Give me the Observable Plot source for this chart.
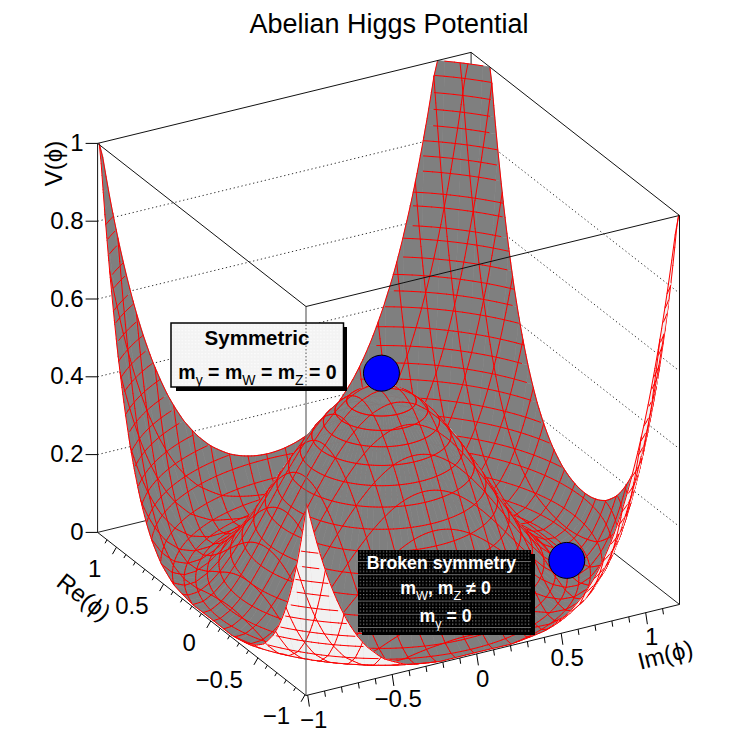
<!DOCTYPE html>
<html><head><meta charset="utf-8">
<style>html,body{margin:0;padding:0;background:#fff}svg{display:block}</style>
<script src="https://cdn.jsdelivr.net/npm/d3@7"></script>
<script src="https://cdn.jsdelivr.net/npm/@observablehq/plot@0.6"></script>
</head><body><div id="chart"></div>
<script>
// values
const ringR=[0,.06,.12,.18,.24,.30,.36,.42,.48,.54,.60,.66,.72,.78,.84,.90,.96,1.02,1.08,1.14,1.19,1.22,1.25,1.275,1.30,1.32,1.34,1.36,1.38,1.395,1.41,1.425,1.44,1.45,1.465,1.475,1.49,1.5,1.51,1.52,1.53,1.54,1.55,1.563];
const ringV=[.49,.486,.476,.459,.435,.406,.371,.332,.29,.246,.201,.156,.114,.075,.042,.018,.003,.001,.014,.044,.085,.117,.155,.192,.233,.27,.31,.354,.401,.439,.478,.52,.565,.596,.644,.677,.729,.766,.803,.841,.881,.922,.964,1];
const gridLines=[-1,-.89,-.78,-.67,-.56,-.45,-.34,-.23,-.12,-.01,.1,.21,.32,.43,.54,.65,.76,.87,.98,1.09,1.2];
const zTicks=[0,.2,.4,.6,.8,1];
const zLabels=["0","0.2","0.4","0.6","0.8","1"];
const reTicks=[-1,-.5,0,.5,1];
const minorTicks=[-1,-.9,-.8,-.7,-.6,-.5,-.4,-.3,-.2,-.1,0,.1,.2,.3,.4,.5,.6,.7,.8,.9,1,1.1];
const tickLabels=["\u22121","\u22120.5","0","0.5","1"];
const balls=[{re:0,im:0,v:.53},{re:-.46,im:.84,v:.047}];
const lo=-1.01,hi=1.2,dLo=-1,dHi=1.2;

// parallel view of the box
const px=(re,im,v)=>305.5+(re-lo)*-94.3+(im-lo)*169;
const py=(re,im,v)=>695+(re-lo)*-73.8+(im-lo)*-41.2-v*389;
const depth=(re,im,v)=>re+.558*im-.25*v;
const vAt=d3.scaleLinear().domain(ringR).range(ringV);

function clip(poly,axis,val,keepAbove){
  const out=[];
  const inside=p=>keepAbove?p[axis]>=val:p[axis]<=val;
  for(let i=0;i<poly.length;i++){
    const a=poly[i],b=poly[(i+1)%poly.length];
    if(inside(a))out.push(a);
    if(inside(a)!==inside(b)){
      const t=(val-a[axis])/(b[axis]-a[axis]);
      out.push([a[0]+t*(b[0]-a[0]),a[1]+t*(b[1]-a[1]),a[2]+t*(b[2]-a[2])]);
    }
  }
  return out;
}
const items=[];
const nT=96;
const rMax=ringR[ringR.length-1];
const polar=(i,j)=>{const th=j*2*Math.PI/nT;return[ringR[i]*Math.cos(th),ringR[i]*Math.sin(th),ringV[i]];};
for(let i=0;i<ringR.length-1;i++)for(let j=0;j<nT;j++){
  let p=[polar(i,j),polar(i+1,j),polar(i+1,j+1),polar(i,j+1)];
  p=clip(p,0,dLo,true);if(p.length)p=clip(p,0,dHi,false);if(p.length)p=clip(p,1,dLo,true);if(p.length)p=clip(p,1,dHi,false);
  if(p.length<3)continue;
  const pts=p.map(q=>[px(...q),py(...q)]);
  let area=0;pts.forEach((a,k)=>{const b=pts[(k+1)%pts.length];area+=a[0]*b[1]-b[0]*a[1];});
  if(Math.abs(area)<.01)continue;
  const col=area>0?"#7f7f7f":"#f1f1f1";
  items.push({key:d3.mean(p,q=>depth(...q)),pts,fill:col,stroke:col,sw:.7});
}
function seg(a,b){
  const m=[(a[0]+b[0])/2,(a[1]+b[1])/2,(a[2]+b[2])/2];
  items.push({key:depth(...m)-.07,pts:[[px(...a),py(...a)],[px(...b),py(...b)]],fill:"none",stroke:"#ff0000",sw:1});
}
// rings
ringR.forEach((r,i)=>{
  if(r<.17)return;
  for(let j=0;j<nT*2;j++){
    const t0=j*Math.PI/nT,t1=(j+1)*Math.PI/nT;
    const a=[r*Math.cos(t0),r*Math.sin(t0),ringV[i]],b=[r*Math.cos(t1),r*Math.sin(t1),ringV[i]];
    if(Math.min(a[0],a[1],b[0],b[1])<dLo||Math.max(a[0],a[1],b[0],b[1])>dHi)continue;
    seg(a,b);
  }
});
// grid lines in both directions
const st=.02,nS=110;
for(const c of gridLines){
  for(let k=0;k<nS;k++){
    const s0=dLo+k*st,s1=s0+st;
    const r0=Math.hypot(c,s0),r1=Math.hypot(c,s1);
    if(r0>rMax||r1>rMax)continue;
    const v0=vAt(r0),v1=vAt(r1);
    seg([c,s0,v0],[c,s1,v1]);
    seg([s0,c,v0],[s1,c,v1]);
  }
}
items.sort((a,b)=>b.key-a.key);
const surfaceRows=[];
items.forEach((it,id)=>it.pts.forEach(p=>surfaceRows.push({id,x:p[0],y:p[1],fill:it.fill,stroke:it.stroke,sw:it.sw})));

// box lines
const P=(re,im,v)=>({x:px(re,im,v),y:py(re,im,v)});
const edge=(a,b)=>({x1:px(...a),y1:py(...a),x2:px(...b),y2:py(...b)});
const backEdges=[edge([hi,lo,0],[hi,hi,0]),edge([hi,hi,0],[lo,hi,0]),edge([hi,hi,0],[hi,hi,1])];
const dotted=[];
for(const z of [.2,.4,.6,.8]){dotted.push(edge([hi,lo,z],[hi,hi,z]),edge([hi,hi,z],[lo,hi,z]));}
const frontEdges=[edge([hi,lo,0],[hi,lo,1]),edge([lo,hi,0],[lo,hi,1]),edge([hi,lo,1],[hi,hi,1]),edge([hi,hi,1],[lo,hi,1]),edge([hi,lo,1],[lo,lo,1]),edge([lo,lo,1],[lo,hi,1]),edge([hi,lo,0],[lo,lo,0]),edge([lo,lo,0],[lo,hi,0])];
const frontVert=[edge([lo,lo,0],[lo,lo,1])];
const zTickRows=zTicks.map(z=>P(hi,lo,z));
const isMajor=t=>reTicks.includes(t);
const reTickRows=minorTicks.map(t=>{const o=P(t,lo,0),m=isMajor(t)?1:.5;return{x1:o.x,y1:o.y,x2:o.x-4*m,y2:o.y+7*m};});
const imTickRows=minorTicks.map(t=>{const o=P(lo,t,0),m=isMajor(t)?1:.5;return{x1:o.x,y1:o.y,x2:o.x+1.7*m,y2:o.y+11.5*m};});
const F="Liberation Sans, Arial, sans-serif";
const pattern=()=>{
  const defs=d3.create("svg:defs");
  const a=defs.append("pattern").attr("id","lightDots").attr("width",3.3).attr("height",3.3).attr("patternUnits","userSpaceOnUse");
  a.append("rect").attr("width",3.3).attr("height",3.3).attr("fill","#f3f3f3");
  a.append("rect").attr("width",1.6).attr("height",1.2).attr("fill","#fbfbfb");
  const b=defs.append("pattern").attr("id","darkDots").attr("width",3.3).attr("height",13.2).attr("patternUnits","userSpaceOnUse");
  b.append("rect").attr("width",3.3).attr("height",13.2).attr("fill","#000");
  for(let y=0;y<13;y+=3.3)b.append("rect").attr("y",y).attr("width",1.2).attr("height",1.1).attr("fill","#8a8a8a");
  b.append("rect").attr("y",6.6).attr("width",3.3).attr("height",.9).attr("fill","#6e6e6e");
  return defs.node();
};
const one=[{}];
const plot=Plot.plot({
  width:745,height:745,margin:0,
  style:{background:"#fff",fontFamily:F},
  x:{domain:[0,745],range:[0,745],axis:null},
  y:{domain:[0,745],range:[0,745],axis:null},
  marks:[
    pattern,
    Plot.link(dotted,{x1:"x1",y1:"y1",x2:"x2",y2:"y2",stroke:"#333",strokeWidth:1,strokeDasharray:"1.3,2.7"}),
    Plot.link(backEdges,{x1:"x1",y1:"y1",x2:"x2",y2:"y2",stroke:"#222",strokeWidth:1}),
    Plot.line(surfaceRows,{x:"x",y:"y",z:"id",fill:{value:d=>d.fill,scale:null},stroke:{value:d=>d.stroke,scale:null},strokeWidth:{value:d=>d.sw,scale:null}}),
    Plot.link(frontVert,{x1:"x1",y1:"y1",x2:"x2",y2:"y2",stroke:"#666",strokeWidth:1.2}),
    Plot.link(frontEdges,{x1:"x1",y1:"y1",x2:"x2",y2:"y2",stroke:"#111",strokeWidth:1}),
    Plot.link(zTickRows,{x1:d=>d.x-12,x2:"x",y1:"y",y2:"y",stroke:"#000",strokeWidth:1}),
    Plot.link(reTickRows,{x1:"x1",y1:"y1",x2:"x2",y2:"y2",stroke:"#000",strokeWidth:1}),
    Plot.link(imTickRows,{x1:"x1",y1:"y1",x2:"x2",y2:"y2",stroke:"#000",strokeWidth:1}),
    Plot.text(zTicks,{x:z=>P(hi,lo,z).x,y:z=>P(hi,lo,z).y,text:(z,i)=>zLabels[i],textAnchor:"end",dx:-14,fontSize:24,fill:"#000"}),
    Plot.text(reTicks,{x:t=>P(t,lo,0).x,y:t=>P(t,lo,0).y,text:(t,i)=>tickLabels[i],textAnchor:"end",dx:-15,dy:22,fontSize:24,fill:"#000"}),
    Plot.text(reTicks,{x:t=>P(lo,t,0).x,y:t=>P(lo,t,0).y,text:(t,i)=>tickLabels[i],dx:6,dy:25,fontSize:24,fill:"#000"}),
    Plot.text(one,{x:()=>54,y:()=>163,text:()=>"V(\u03D5)",rotate:-90,fontSize:24,fill:"#000"}),
    Plot.text(one,{x:()=>83,y:()=>597,text:()=>"Re(\u03D5)",rotate:38,fontSize:24,fill:"#000"}),
    Plot.text(one,{x:()=>665,y:()=>655,text:()=>"Im(\u03D5)",rotate:-14,fontSize:24,fill:"#000"}),
    Plot.text(one,{x:()=>388.5,y:()=>24,text:()=>"Abelian Higgs Potential",fontSize:27,fill:"#000"}),
    Plot.dot(balls,{x:d=>px(d.re,d.im,d.v),y:d=>py(d.re,d.im,d.v),r:18,fill:"#0000ff",stroke:"#000",strokeWidth:1}),
    Plot.rect(one,{x1:()=>176,x2:()=>347,y1:()=>327,y2:()=>391,fill:"#000"}),
    Plot.rect(one,{x1:()=>171,x2:()=>343.5,y1:()=>323,y2:()=>387,fill:"url(#lightDots)",stroke:"#000",strokeWidth:1.5}),
    Plot.link(one,{x1:()=>305.5,x2:()=>305.5,y1:()=>324,y2:()=>386,stroke:"#555",strokeDasharray:"1.5,2"}),
    Plot.text(one,{x:()=>256.5,y:()=>338,text:()=>"Symmetric",fontSize:20.5,fontWeight:"bold",fill:"#000"}),
    Plot.text(one,{x:()=>257,y:()=>372,text:()=>"m_\u03B3 = m_W = m_Z = 0",fontSize:19.5,fontWeight:"bold",fill:"#000"}),
    Plot.rect(one,{x1:()=>362,x2:()=>535,y1:()=>554,y2:()=>635,fill:"#000"}),
    Plot.rect(one,{x1:()=>358,x2:()=>531,y1:()=>550,y2:()=>632,fill:"url(#darkDots)"}),
    Plot.text(one,{x:()=>441,y:()=>563,text:()=>"Broken symmetry",fontSize:17.7,fontWeight:"bold",fill:"#fff"}),
    Plot.text(one,{x:()=>445,y:()=>588,text:()=>"m_W, m_Z \u2260 0",fontSize:17.7,fontWeight:"bold",fill:"#fff"}),
    Plot.text(one,{x:()=>445,y:()=>616,text:()=>"m_\u03B3 = 0",fontSize:17.7,fontWeight:"bold",fill:"#fff"})
  ]
});
// subscripts as real tspans
d3.select(plot).selectAll("text").each(function(){
  const t=this.textContent;
  if(!t.includes("_"))return;
  const parts=t.split(/_(.)/);
  this.textContent="";
  parts.forEach((s,i)=>{
    if(!s)return;
    const ts=d3.select(this).append("tspan").text(s);
    if(i%2){ts.attr("font-size","72%").attr("font-weight","normal").attr("dy","0.45em");}
    else if(i>0){ts.attr("dy","-0.324em");}
  });
});
document.getElementById("chart").append(plot);
</script></body></html>
